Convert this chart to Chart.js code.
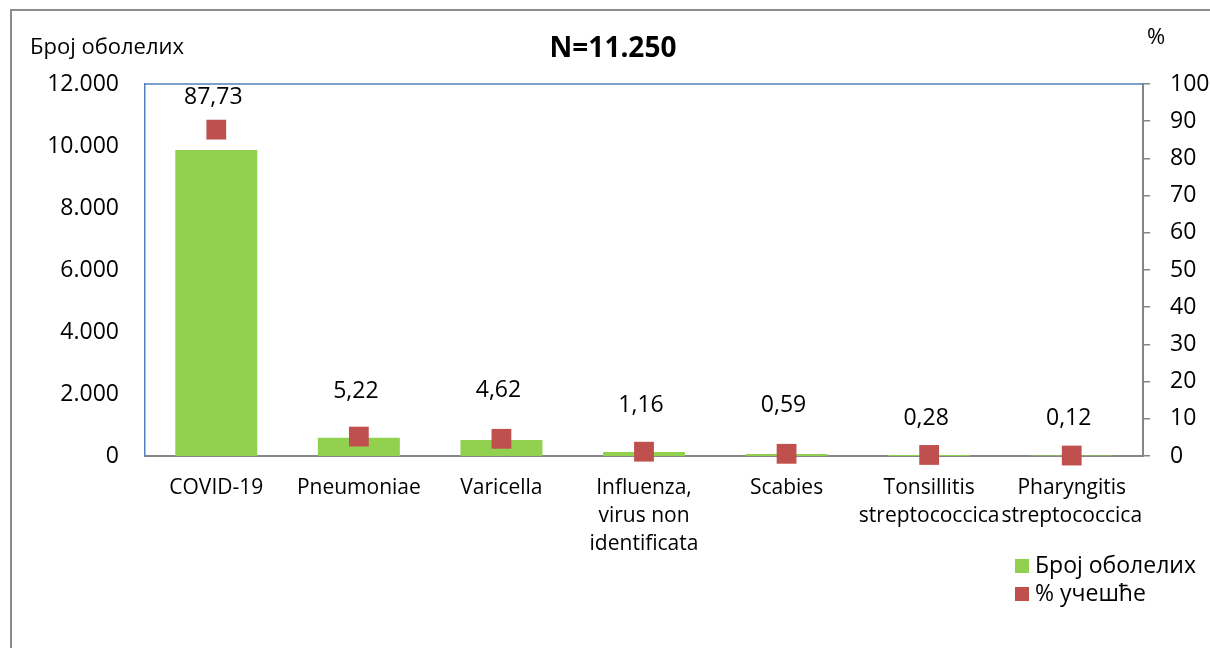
<!DOCTYPE html>
<html>
<head>
<meta charset="utf-8">
<script src="https://cdn.jsdelivr.net/npm/chart.js@4.4.1/dist/chart.umd.min.js"></script>
<style>
  html, body { margin: 0; padding: 0; background: #fff; overflow: hidden; }
  #wrap { position: relative; width: 1210px; height: 648px; }
  #frame { position: absolute; left: 10px; top: 9px; width: 1300px; height: 700px; border: 2px solid #8c8c8c; box-sizing: border-box; }
  canvas { position: absolute; left: 0; top: 0; }
</style>
</head>
<body>
<div id="wrap">
  <div id="frame"></div>
  <canvas id="chart" width="1210" height="648"></canvas>
</div>
<script>
// categories and values
var categories = [
    'COVID-19',
    'Pneumoniae',
    'Varicella',
    ['Influenza,', 'virus non', 'identificata'],
    'Scabies',
    ['Tonsillitis', 'streptococcica'],
    ['Pharyngitis', 'streptococcica']
];
var cases = [9870, 590, 520, 130, 66, 32, 14];       // Број оболелих
var percents = [87.73, 5.22, 4.62, 1.16, 0.59, 0.28, 0.12]; // % учешће
var leftTicks = [0, 2000, 4000, 6000, 8000, 10000, 12000];
var rightTicks = [0, 10, 20, 30, 40, 50, 60, 70, 80, 90, 100];

var labelOffsets = [32, 45, 48, 46, 48, 37, 37]; // how far each % label sits above its marker

var FONT = '"Open Sans", "DejaVu Sans", sans-serif';
var GREEN = '#92d050';
var RED = '#c0504d';

function fmt(n) {
    return n.toString().replace(/\B(?=(\d{3})+(?!\d))/g, '.');
}

var extras = {
    id: 'extras',
    afterDraw: function (chart) {
        var ctx = chart.ctx;
        var area = chart.chartArea;
        ctx.save();

        // blue top edge of plot area
        ctx.strokeStyle = '#4f81bd';
        ctx.lineWidth = 1.5;
        ctx.beginPath();
        ctx.moveTo(area.left, area.top);
        ctx.lineTo(area.right, area.top);
        ctx.stroke();

        ctx.fillStyle = '#000';
        ctx.textBaseline = 'middle';

        // title
        ctx.font = 'bold 28px ' + FONT;
        ctx.textAlign = 'center';
        ctx.fillText('N=11.250', 613, 49);

        // axis titles
        ctx.font = '22px ' + FONT;
        ctx.textAlign = 'left';
        ctx.fillText('Број оболелих', 30, 48);
        ctx.fillText('%', 1147, 38);

        // % labels above markers
        var meta = chart.getDatasetMeta(1);
        ctx.textAlign = 'center';
        ctx.font = '23px ' + FONT;
        meta.data.forEach(function (pt, i) {
            ctx.fillText(percents[i].toFixed(2).replace('.', ','), pt.x - 3, pt.y - labelOffsets[i]);
        });

        // legend
        var items = [
            { text: chart.data.datasets[0].label, color: GREEN },
            { text: chart.data.datasets[1].label, color: RED }
        ];
        ctx.textAlign = 'left';
        ctx.font = '23px ' + FONT;
        items.forEach(function (it, i) {
            var y = 566 + i * 28;
            ctx.fillStyle = it.color;
            ctx.fillRect(1015, y - 7, 14, 14);
            ctx.fillStyle = '#000';
            ctx.fillText(it.text, 1035, y);
        });

        ctx.restore();
    }
};

var ctx = document.getElementById('chart').getContext('2d');
var chart = new Chart(ctx, {
    type: 'bar',
    data: {
        labels: categories,
        datasets: [{
            label: 'Број оболелих',
            data: cases,
            backgroundColor: GREEN,
            barPercentage: 0.575,
            categoryPercentage: 1,
            yAxisID: 'y',
            order: 2
        }, {
            type: 'line',
            label: '% учешће',
            data: percents,
            showLine: false,
            clip: false,
            pointStyle: 'rect',
            pointRadius: 14,
            pointHoverRadius: 14,
            backgroundColor: RED,
            borderColor: RED,
            borderWidth: 0,
            yAxisID: 'y1',
            order: 1
        }]
    },
    options: {
        responsive: false,
        animation: false,
        layout: { padding: { top: 84, left: 0, right: 0, bottom: 0 } },
        plugins: {
            legend: { display: false },
            tooltip: { enabled: false }
        },
        scales: {
            x: {
                grid: { display: false, drawTicks: false },
                border: { color: '#868686', width: 2 },
                ticks: {
                    color: '#000',
                    font: { family: FONT, size: 21, lineHeight: 1.33 },
                    padding: 18,
                    maxRotation: 0,
                    autoSkip: false
                },
                afterFit: function (s) { s.height = 192; }
            },
            y: {
                position: 'left',
                min: 0,
                max: 12000,
                afterBuildTicks: function (s) { s.ticks = leftTicks.map(function (v) { return { value: v }; }); },
                grid: { display: false, drawTicks: false },
                border: { color: '#4f81bd', width: 1.5 },
                ticks: {
                    color: '#000',
                    font: { family: FONT, size: 23 },
                    padding: 26,
                    callback: function (v) { return fmt(v); }
                },
                afterFit: function (s) { s.width = 145; }
            },
            y1: {
                position: 'right',
                min: 0,
                max: 100,
                afterBuildTicks: function (s) { s.ticks = rightTicks.map(function (v) { return { value: v }; }); },
                grid: { drawOnChartArea: false, drawTicks: true, tickLength: 7, color: '#868686', lineWidth: 1.5 },
                border: { color: '#868686', width: 2 },
                ticks: {
                    color: '#000',
                    font: { family: FONT, size: 23 },
                    padding: 20
                },
                afterFit: function (s) { s.width = 67; }
            }
        }
    },
    plugins: [extras]
});
</script>
</body>
</html>
